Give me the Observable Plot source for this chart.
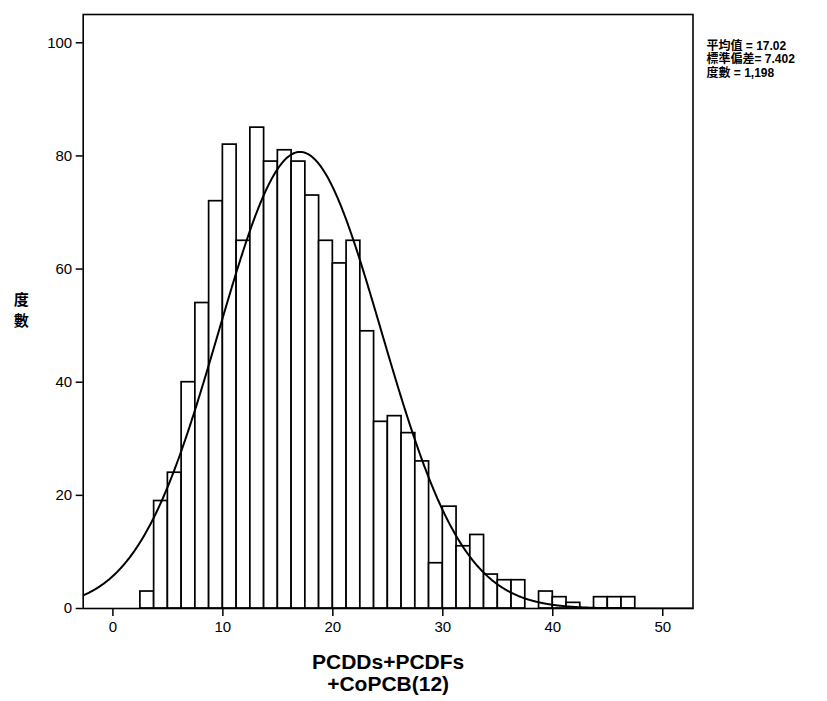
<!DOCTYPE html>
<html>
<head>
<meta charset="utf-8">
<script src="https://cdn.jsdelivr.net/npm/d3@7"></script>
<script src="https://cdn.jsdelivr.net/npm/@observablehq/plot@0.6"></script>
<style>
  html, body { margin: 0; padding: 0; background: #fff; }
  svg { display: block; }
</style>
</head>
<body>
<div id="chart"></div>
<script>
// Histogram of PCDDs+PCDFs+CoPCB(12) with fitted normal curve
const binWidth = 1.25;
const binLower = [2.5, 3.75, 5, 6.25, 7.5, 8.75, 10, 11.25, 12.5, 13.75, 15, 16.25,
  17.5, 18.75, 20, 21.25, 22.5, 23.75, 25, 26.25, 27.5, 28.75, 30, 31.25,
  32.5, 33.75, 35, 36.25, 37.5, 38.75, 40, 41.25, 42.5, 43.75, 45, 46.25];
const binCounts = [3, 19, 24, 40, 54, 72, 82, 65, 85, 79, 81, 79,
  73, 65, 61, 65, 49, 33, 34, 31, 26, 8, 18, 11,
  13, 6, 5, 5, 0, 3, 2, 1, 0, 2, 2, 2];

// Summary statistics shown beside the plot
const mean = 17.02;
const stdDev = 7.402;
const n = 1198;
const statLines = ["平均值 = 17.02", "標準偏差= 7.402", "度數 = 1,198"];

const xTicks = [0, 10, 20, 30, 40, 50];
const yTicks = [0, 20, 40, 60, 80, 100];
const xDomain = [-2.7, 52.75];
const yDomain = [0, 105];
const xTitle = "PCDDs+PCDFs\n+CoPCB(12)";
const yTitle = "度\n數";

const bins = binLower
  .map((x1, i) => ({x1, x2: x1 + binWidth, count: binCounts[i]}))
  .filter(d => d.count > 0);

// Normal density scaled to counts per bin, from the stated mean and SD
const normal = x => n * binWidth * Math.exp(-0.5 * ((x - mean) / stdDev) ** 2) / (stdDev * Math.sqrt(2 * Math.PI));
const curve = d3.range(xDomain[0], xDomain[1] + 0.001, 0.05).map(x => ({x, y: normal(x)}));

const latin = "'Liberation Sans', Arial, 'Noto Sans CJK TC', sans-serif";

const chart = Plot.plot({
  width: 827,
  height: 701,
  marginLeft: 82.7,
  marginRight: 134.5,
  marginTop: 14,
  marginBottom: 93,
  style: {fontFamily: latin, color: "#000", background: "#fff"},
  x: {domain: xDomain},
  y: {domain: yDomain},
  marks: [
    Plot.rectY(bins, {x1: "x1", x2: "x2", y: "count", fill: "#fff", stroke: "#000", strokeWidth: 1.7}),
    Plot.line(curve, {x: "x", y: "y", stroke: "#000", strokeWidth: 2, clip: true}),
    Plot.frame({stroke: "#000", strokeWidth: 1.6}),
    Plot.axisY({ticks: yTicks, tickSize: 7, tickPadding: 4, fontSize: 15, label: null, strokeWidth: 1.5}),
    Plot.axisX({ticks: xTicks, tickSize: 8, tickPadding: 5, fontSize: 15, label: null, strokeWidth: 1.5}),
    Plot.text([yTitle], {frameAnchor: "left", dx: -62, dy: -3, text: d => d, fontSize: 15, fontWeight: "bold",
      fontFamily: "'Noto Sans CJK TC', sans-serif", lineHeight: 1.45, textAnchor: "middle"}),
    Plot.text([xTitle], {frameAnchor: "bottom", dy: 45, text: d => d, fontSize: 21, fontWeight: "bold",
      lineAnchor: "top", lineHeight: 1.05, textAnchor: "middle"}),
    Plot.text([statLines.join("\n")], {frameAnchor: "top-right", dx: 13.5, dy: 26, text: d => d, fontSize: 12,
      fontWeight: 600, lineAnchor: "top", lineHeight: 1.12, textAnchor: "start"})
  ]
});

document.getElementById("chart").append(chart);
</script>
</body>
</html>
